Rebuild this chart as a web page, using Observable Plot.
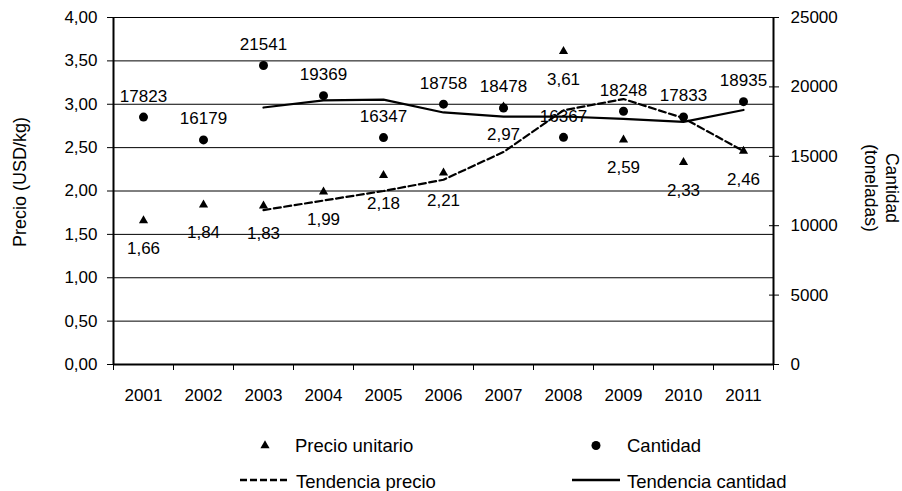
<!DOCTYPE html>
<html><head><meta charset="utf-8">
<script src="https://cdn.jsdelivr.net/npm/d3@7"></script>
<script src="https://cdn.jsdelivr.net/npm/@observablehq/plot@0.6"></script>
<style>
body{margin:0;background:#fff;}
#wrap{position:relative;width:902px;height:491px;overflow:hidden;font-family:"Liberation Sans",Arial,sans-serif;color:#000;}
#legend{position:absolute;left:0;top:0;}
</style></head><body>
<div id="wrap"><div id="chart"></div><svg id="legend" width="902" height="491"></svg></div>
<script>
const years = [2001, 2002, 2003, 2004, 2005, 2006, 2007, 2008, 2009, 2010, 2011];
const precio = [1.66, 1.84, 1.83, 1.99, 2.18, 2.21, 2.97, 3.61, 2.59, 2.33, 2.46];
const cantidad = [17823, 16179, 21541, 19369, 16347, 18758, 18478, 16367, 18248, 17833, 18935];
const tendPrecio = [null, null, 1.78, 1.89, 2.00, 2.13, 2.45, 2.93, 3.06, 2.84, 2.46];
const tendCantidad = [null, null, 18514, 19030, 19086, 18158, 17861, 17868, 17698, 17483, 18339];
const precioTicks = [0, 0.5, 1, 1.5, 2, 2.5, 3, 3.5, 4];
const cantidadTicks = [0, 5000, 10000, 15000, 20000, 25000];
const yearEdges = [2000.5, 2001.5, 2002.5, 2003.5, 2004.5, 2005.5, 2006.5, 2007.5, 2008.5, 2009.5, 2010.5, 2011.5];

const rows = years.map((y, i) => ({year: y, precio: precio[i], cantidad: cantidad[i], tp: tendPrecio[i], tc: tendCantidad[i]}));
const trendRows = rows.filter(d => d.tp != null);
const y2 = d3.scaleLinear([0, 25000], [0, 4]);
const fmtP = d => d.toFixed(2).replace(".", ",");
const FS = 17;
const FONT = '"Liberation Sans", Arial, sans-serif';

const chart = Plot.plot({
  width: 902, height: 410,
  marginLeft: 113, marginRight: 129, marginTop: 17, marginBottom: 46,
  style: {fontFamily: FONT, fontSize: FS + "px", color: "#000", background: "#fff"},
  x: {type: "linear", domain: [yearEdges[0], yearEdges[yearEdges.length - 1]]},
  y: {domain: [0, 4]},
  marks: [
    Plot.ruleY(precioTicks.slice(1), {stroke: "#000", strokeWidth: 1}),
    Plot.axisY(precioTicks, {anchor: "left", tickSize: 6, tickPadding: 10, tickFormat: fmtP, label: null, fontSize: FS, stroke: "#000"}),
    Plot.axisY(cantidadTicks, {y: y2, anchor: "right", tickSize: 5, tickPadding: 12, tickFormat: d => String(d), label: null, fontSize: FS, stroke: "#000"}),
    Plot.axisY(cantidadTicks, {y: y2, anchor: "right", tickSize: -5, tickFormat: () => "", label: null, stroke: "#000"}),
    Plot.axisX(yearEdges, {tickSize: 6, tickFormat: () => "", label: null, stroke: "#000"}),
    Plot.axisX(years, {tickSize: 0, tickPadding: 24, tickFormat: d => String(d), label: null, fontSize: FS}),
    Plot.ruleY([0], {stroke: "#000", strokeWidth: 2}),
    Plot.ruleX([yearEdges[0]], {stroke: "#000", strokeWidth: 2}),
    Plot.ruleX([yearEdges[yearEdges.length - 1]], {stroke: "#000", strokeWidth: 2}),
    Plot.line(trendRows, {x: "year", y: "tp", stroke: "#000", strokeWidth: 2.2, strokeDasharray: "7,3.5"}),
    Plot.line(trendRows, {x: "year", y: d => y2(d.tc), stroke: "#000", strokeWidth: 2.2}),
    Plot.dot(rows, {x: "year", y: "precio", symbol: "triangle", r: 3.4, fill: "#000", stroke: "none"}),
    Plot.dot(rows, {x: "year", y: d => y2(d.cantidad), r: 4.5, fill: "#000", stroke: "none"}),
    Plot.text(rows, {x: "year", y: "precio", text: d => fmtP(d.precio), dy: 28, fontSize: FS, fill: "#000"}),
    Plot.text(rows, {x: "year", y: d => y2(d.cantidad), text: d => String(d.cantidad), dy: -21, fontSize: FS, fill: "#000"}),
    Plot.text(["Precio (USD/kg)"], {frameAnchor: "left", textAnchor: "middle", dx: -93, dy: -9, rotate: -90, fontSize: 18, fill: "#000"}),
    Plot.text(["Cantidad\n(toneladas)"], {frameAnchor: "right", textAnchor: "middle", dx: 109, dy: -3, rotate: 90, fontSize: 17.5, lineHeight: 1.2, fill: "#000"})
  ]
});
document.getElementById("chart").appendChild(chart);

// legend below the chart
const lg = d3.select("#legend");
const legendItems = [
  {label: "Precio unitario", kind: "triangle", sx: 265, tx: 295, cy: 445.5},
  {label: "Cantidad", kind: "circle", sx: 596, tx: 627, cy: 445.5},
  {label: "Tendencia precio", kind: "dash", sx: 240, tx: 296, cy: 481.5},
  {label: "Tendencia cantidad", kind: "solid", sx: 572, tx: 627, cy: 481.5}
];
for (const it of legendItems) {
  if (it.kind === "triangle") lg.append("path").attr("d", d3.symbol(d3.symbolTriangle, Math.PI * 3.4 * 3.4)()).attr("transform", `translate(${it.sx},${it.cy})`).attr("fill", "#000");
  else if (it.kind === "circle") lg.append("circle").attr("cx", it.sx).attr("cy", it.cy).attr("r", 4.5).attr("fill", "#000");
  else lg.append("line").attr("x1", it.sx).attr("x2", it.sx + 48).attr("y1", it.cy - 1.5).attr("y2", it.cy - 1.5).attr("stroke", "#000").attr("stroke-width", 2.5).attr("stroke-dasharray", it.kind === "dash" ? "7,3" : null);
  lg.append("text").attr("x", it.tx).attr("y", it.cy).attr("dy", "0.35em").attr("font-size", 18.5).attr("font-family", FONT).attr("fill", "#000").text(it.label);
}
</script>
</body></html>
